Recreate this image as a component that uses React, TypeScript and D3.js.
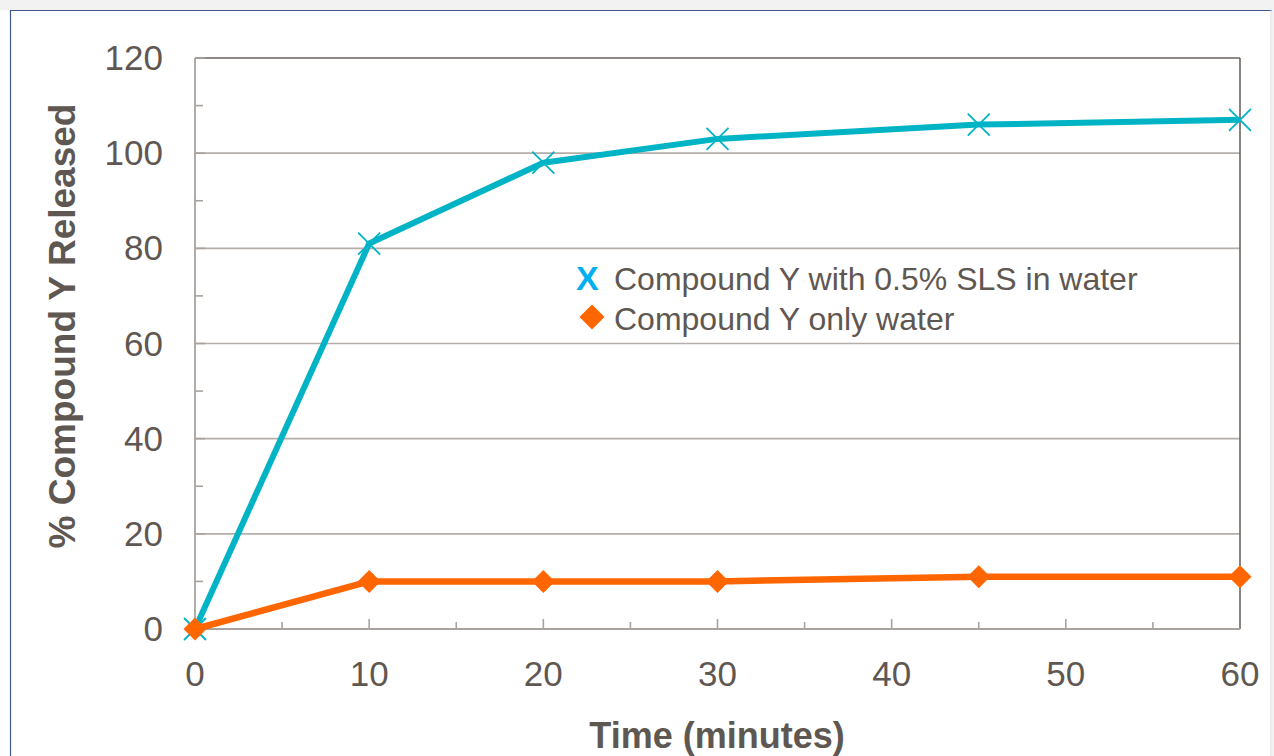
import React from "react";
import * as d3 from "d3";

const times = [0, 10, 20, 30, 45, 60];
const slsValues = [0, 81, 98, 103, 106, 107];
const waterValues = [0, 10, 10, 10, 11, 11];
const yTicks = [0, 20, 40, 60, 80, 100, 120];
const xTicks = [0, 10, 20, 30, 40, 50, 60];
const seriesNames = ["Compound Y with 0.5% SLS in water", "Compound Y only water"];

const W = 1274;
const H = 756;
const TEXT = "#5f5751";
const CYAN = "#00b4c6";
const ORANGE = "#ff6600";
const FONT = "'Liberation Sans', Arial, sans-serif";

export default function App() {
  const x = d3.scaleLinear().domain([0, 60]).range([195, 1240]);
  const y = d3.scaleLinear().domain([0, 120]).range([629, 58]);
  const line = d3
    .line<[number, number]>()
    .x((d) => x(d[0]))
    .y((d) => y(d[1]));
  const sls: [number, number][] = times.map((t, i) => [t, slsValues[i]]);
  const water: [number, number][] = times.map((t, i) => [t, waterValues[i]]);
  const minorY = d3.range(10, 120, 20);
  const xMinor = d3.range(5, 60, 5);
  const diamond = (cx: number, cy: number, r: number) =>
    `M${cx},${cy - r}L${cx + r},${cy}L${cx},${cy + r}L${cx - r},${cy}Z`;

  return (
    <svg
      width={W}
      height={H}
      style={{ position: "absolute", left: 0, top: 0, background: "#ffffff" }}
      fontFamily={FONT}
    >
      <rect x={0} y={0} width={W} height={10} fill="#f2f2f2" />
      <rect x={W - 2} y={0} width={2} height={H} fill="#f2f2f2" />
      <line x1={10} y1={10.5} x2={W - 2} y2={10.5} stroke="#3e5a96" strokeWidth={1.2} />
      <line x1={10.5} y1={10} x2={10.5} y2={H} stroke="#3e5a96" strokeWidth={1.2} />
      <line x1={W - 3} y1={10} x2={W - 3} y2={H} stroke="#d9d9d9" strokeWidth={1} />

      {/* gridlines */}
      {yTicks.slice(1, -1).map((v) => (
        <line key={v} x1={x(0)} x2={x(60)} y1={y(v)} y2={y(v)} stroke="#b3aeaa" strokeWidth={1.6} />
      ))}
      {/* plot frame top & right */}
      <line x1={x(0)} x2={x(60)} y1={y(120)} y2={y(120)} stroke="#6b6560" strokeWidth={1.6} />
      <line x1={x(60)} x2={x(60)} y1={y(120)} y2={y(0)} stroke="#6b6560" strokeWidth={1.6} />
      {/* axes */}
      <line x1={x(0)} x2={x(0)} y1={y(120)} y2={y(0)} stroke="#a8a39f" strokeWidth={1.8} />
      <line x1={x(0)} x2={x(60)} y1={y(0)} y2={y(0)} stroke="#a8a39f" strokeWidth={1.8} />
      {yTicks.map((v) => (
        <line key={"yt" + v} x1={x(0)} x2={x(0) + 10} y1={y(v)} y2={y(v)} stroke="#a8a39f" strokeWidth={1.6} />
      ))}
      {minorY.map((v) => (
        <line key={"ym" + v} x1={x(0)} x2={x(0) + 8} y1={y(v)} y2={y(v)} stroke="#a8a39f" strokeWidth={1.6} />
      ))}
      {xMinor.map((v) => (
        <line
          key={"xm" + v}
          x1={x(v)}
          x2={x(v)}
          y1={y(0)}
          y2={y(0) - (v % 10 === 0 ? 10 : 7)}
          stroke="#a8a39f"
          strokeWidth={1.6}
        />
      ))}

      {/* tick labels */}
      {yTicks.map((v) => (
        <text key={"yl" + v} x={163} y={y(v) + 12} textAnchor="end" fontSize={35} fill={TEXT}>
          {v}
        </text>
      ))}
      {xTicks.map((v) => (
        <text key={"xl" + v} x={x(v)} y={686} textAnchor="middle" fontSize={35} fill={TEXT}>
          {v}
        </text>
      ))}

      {/* axis titles */}
      <text
        transform={`translate(75,326) rotate(-90)`}
        textAnchor="middle"
        fontSize={37}
        fontWeight="bold"
        fill={TEXT}
      >
        % Compound Y Released
      </text>
      <text x={717} y={748} textAnchor="middle" fontSize={36} fontWeight="bold" fill={TEXT}>
        Time (minutes)
      </text>

      {/* series */}
      <path d={line(sls) ?? ""} fill="none" stroke={CYAN} strokeWidth={6} strokeLinejoin="round" />
      {sls.map((d, i) => {
        const cx = x(d[0]);
        const cy = y(d[1]);
        const r = 11;
        return (
          <path
            key={"sx" + i}
            d={`M${cx - r},${cy - r}L${cx + r},${cy + r}M${cx - r},${cy + r}L${cx + r},${cy - r}`}
            stroke={CYAN}
            strokeWidth={1.8}
          />
        );
      })}
      <path d={line(water) ?? ""} fill="none" stroke={ORANGE} strokeWidth={6.5} strokeLinejoin="round" />
      {water.map((d, i) => (
        <path key={"wd" + i} d={diamond(x(d[0]), y(d[1]), 11.5)} fill={ORANGE} />
      ))}

      {/* legend */}
      <text x={576} y={290} fontSize={34} fontWeight="bold" fill="#00b0f0">
        X
      </text>
      <text x={614} y={290} fontSize={32} fill={TEXT}>
        {seriesNames[0]}
      </text>
      <path d={diamond(592, 317, 12.5)} fill={ORANGE} />
      <text x={614} y={330} fontSize={32} fill={TEXT}>
        {seriesNames[1]}
      </text>
    </svg>
  );
}
